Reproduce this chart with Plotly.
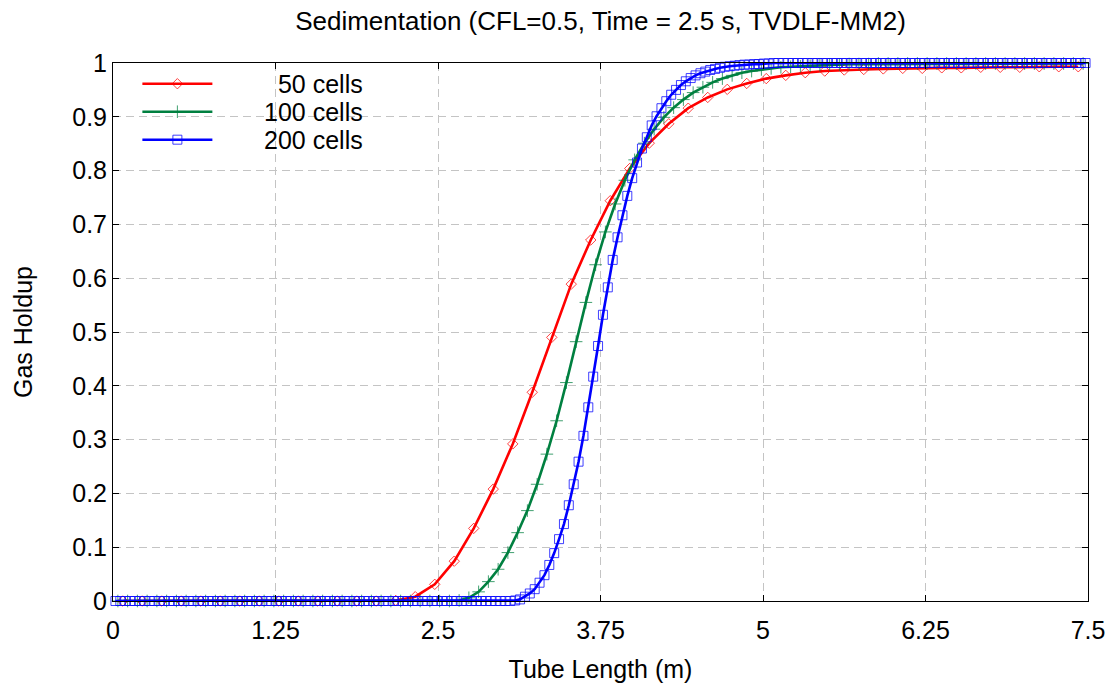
import numpy as np
import plotly.graph_objects as go

TUBE_LENGTH = 7.5

# Gas holdup at cell centres
red_50 = [0.0] * 14 + [
    0.001, 0.008, 0.031, 0.074, 0.135, 0.208, 0.292, 0.388, 0.490, 0.589,
    0.671, 0.744, 0.804, 0.851, 0.887, 0.916, 0.936, 0.951, 0.962, 0.971,
    0.977, 0.982, 0.985, 0.987, 0.988, 0.989, 0.990, 0.990, 0.991, 0.991,
    0.992, 0.992, 0.992, 0.993, 0.993, 0.993,
]

green_100 = [0.0] * 35 + [
    0.001, 0.006, 0.017, 0.036, 0.059, 0.090, 0.127, 0.168, 0.217, 0.273,
    0.335, 0.406, 0.482, 0.555, 0.625, 0.686, 0.738, 0.782, 0.820, 0.851,
    0.877, 0.899, 0.917, 0.932, 0.945, 0.955, 0.964, 0.971, 0.977, 0.982,
    0.985, 0.988, 0.990, 0.992, 0.993, 0.994, 0.995, 0.996, 0.997, 0.997,
    0.998, 0.998, 0.998, 0.999, 0.999,
] + [0.999] * 20

blue_200 = [0.0] * 82 + [
    0.001, 0.003, 0.008, 0.014, 0.022, 0.034, 0.048, 0.067, 0.089, 0.115,
    0.143, 0.178, 0.217, 0.259, 0.307, 0.360, 0.417, 0.474, 0.532, 0.583,
    0.634, 0.676, 0.717, 0.753, 0.786, 0.815, 0.841, 0.862, 0.884, 0.901,
    0.916, 0.929, 0.941, 0.950, 0.959, 0.966, 0.972, 0.977, 0.981, 0.984,
    0.987, 0.989, 0.991, 0.993, 0.994, 0.995, 0.996, 0.997, 0.997, 0.998,
    0.998, 0.999, 0.999,
] + [1.0] * 65

PAD = "\u00a0" * 6 + "\u2009"
series_names = [PAD + "\u00a0\u00a050 cells", PAD + "100 cells", PAD + "200 cells"]
series_values = [red_50, green_100, blue_200]
series_colors = ["#ff0000", "#008040", "#0000ff"]
series_symbols = ["diamond-open", "cross-thin-open", "square-open"]
series_msize = [8, 9, 9]
legend_ids = ["legend", "legend2", "legend3"]
legend_y = [0.961, 0.909, 0.857]

x_tick_vals = [0, 1.25, 2.5, 3.75, 5, 6.25, 7.5]
x_tick_text = ["0", "1.25", "2.5", "3.75", "5", "6.25", "7.5"]
y_tick_vals = [0, 0.1, 0.2, 0.3, 0.4, 0.5, 0.6, 0.7, 0.8, 0.9, 1.0]
y_tick_text = ["0", "0.1", "0.2", "0.3", "0.4", "0.5", "0.6", "0.7", "0.8", "0.9", "1"]

FONT = "Liberation Sans, Arial, sans-serif"

fig = go.Figure()
for name, vals, col, sym, ms, lg in zip(series_names, series_values, series_colors,
                                        series_symbols, series_msize, legend_ids):
    n = len(vals)
    x = (np.arange(n) + 0.5) * TUBE_LENGTH / n
    fig.add_trace(go.Scatter(
        x=x, y=vals, name=name, mode="lines+markers", legend=lg,
        line=dict(color=col, width=2.6),
        marker=dict(symbol=sym, size=ms, color=col, opacity=0.75,
                    line=dict(color=col, width=1)),
        cliponaxis=False,
    ))

axis_common = dict(
    showline=True, linecolor="black", linewidth=1, mirror="ticks",
    ticks="inside", ticklen=6, tickcolor="black", tickwidth=1,
    showgrid=True, gridcolor="#c4c4c4", gridwidth=1, griddash="8px,5px",
    zeroline=False, automargin=False,
    tickfont=dict(family=FONT, size=25, color="black"),
)

legend_common = dict(x=0.025, xanchor="left", yanchor="middle",
                     bgcolor="rgba(0,0,0,0)", borderwidth=0,
                     font=dict(family=FONT, size=25, color="black"),
                     itemwidth=70)

fig.update_layout(
    width=1110, height=688,
    margin=dict(l=113, r=22, t=63, b=87, autoexpand=False),
    paper_bgcolor="white", plot_bgcolor="white",
    font=dict(family=FONT, color="black"),
    title=dict(text="Sedimentation (CFL=0.5, Time = 2.5 s, TVDLF-MM2)",
               xref="paper", x=0.5, xanchor="center", y=0.97, yanchor="middle",
               font=dict(family=FONT, size=26, color="black")),
    xaxis=dict(range=[0, 7.5], tickvals=x_tick_vals, ticktext=x_tick_text,
               ticklabelstandoff=7,
               title=dict(text="Tube Length (m)", font=dict(family=FONT, size=25),
                          standoff=17),
               **axis_common),
    yaxis=dict(range=[0, 1], tickvals=y_tick_vals, ticktext=y_tick_text,
               title=dict(text="Gas Holdup", font=dict(family=FONT, size=25),
                          standoff=32),
               **axis_common),
    legend=dict(y=legend_y[0], **legend_common),
    legend2=dict(y=legend_y[1], **legend_common),
    legend3=dict(y=legend_y[2], **legend_common),
    showlegend=True,
)

fig.write_html("out.html")
